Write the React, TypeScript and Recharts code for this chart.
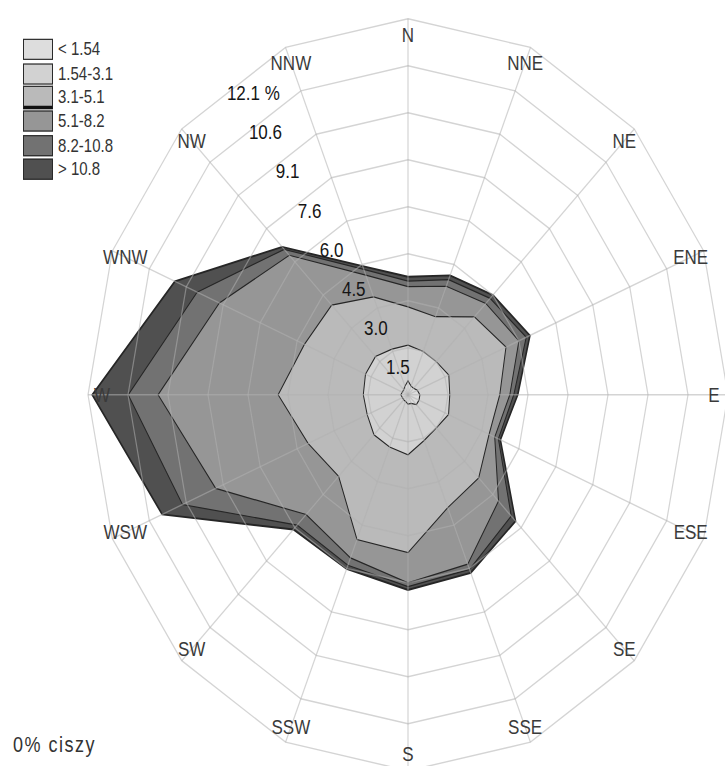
import React from 'react';
import { RadarChart, Radar, PolarGrid, PolarAngleAxis, PolarRadiusAxis } from 'recharts';

// ---------- data ----------
const DIRECTIONS = ['N', 'NNE', 'NE', 'ENE', 'E', 'ESE', 'SE', 'SSE', 'S', 'SSW', 'SW', 'WSW', 'W', 'WNW', 'NW', 'NNW'];

const SPEED_CLASSES = ['< 1.54', '1.54-3.1', '3.1-5.1', '5.1-8.2', '8.2-10.8', '> 10.8'];

// frequency (%) per direction for each wind-speed class
const CLASS_LT_154 = [0.45, 0.30, 0.30, 0.38, 0.45, 0.45, 0.45, 0.30, 0.30, 0.23, 0.23, 0.23, 0.27, 0.23, 0.23, 0.30];
const CLASS_154_31 = [1.15, 1.21, 1.21, 1.29, 1.13, 1.21, 1.06, 1.29, 1.63, 1.59, 1.59, 1.44, 1.42, 1.51, 1.51, 1.29];
const CLASS_31_51 = [1.23, 1.21, 2.04, 2.34, 1.89, 1.66, 2.27, 2.34, 3.15, 3.22, 1.89, 2.42, 3.22, 2.50, 2.34, 1.82];
const CLASS_51_82 = [0.65, 1.06, 0.61, 0.53, 0.38, 0.23, 1.06, 1.97, 0.97, 0.64, 1.74, 3.78, 4.54, 3.48, 2.27, 0.76];
const CLASS_82_108 = [0.18, 0.23, 0.23, 0.30, 0.15, 0.15, 0.68, 0.18, 0.12, 0.26, 0.48, 1.36, 1.13, 0.91, 0.27, 0.20];
const CLASS_GT_108 = [0.14, 0.15, 0.15, 0.15, 0.15, 0.08, 0.23, 0.12, 0.11, 0.12, 0.20, 0.83, 1.36, 0.91, 0.11, 0.11];

const RING_TICKS = [1.5125, 3.025, 4.5375, 6.05, 7.5625, 9.075, 10.5875, 12.1];
const RING_LABELS = ['1.5', '3.0', '4.5', '6.0', '7.6', '9.1', '10.6', '12.1 %'];

const CALM_TEXT = '0% ciszy';

// ---------- styles ----------
const COLORS = ['#dddddd', '#d2d2d2', '#bababa', '#969696', '#727272', '#505050'];
const FONT = '"Liberation Sans", Arial, sans-serif';

const W = 725;
const H = 652;
const SY = 1.175;
const CX = 408;
const CY = 336;
const R = 320;

const CLASSES = [CLASS_LT_154, CLASS_154_31, CLASS_31_51, CLASS_51_82, CLASS_82_108, CLASS_GT_108];

// cumulative (stacked) table for the rose
const data = DIRECTIONS.map((dir, i) => {
  const row: Record<string, number | string> = { dir };
  let sum = 0;
  CLASSES.forEach((arr, k) => {
    sum += arr[i];
    row['s' + k] = Math.round(sum * 1000) / 1000;
  });
  return row;
});

const AngleTick = (props: any) => {
  const { x, y, payload } = props;
  return (
    <text
      x={x}
      y={y}
      textAnchor="middle"
      dominantBaseline="central"
      fontSize={17}
      fontFamily={FONT}
      fill="#3a3a3a"
    >
      {payload.value}
    </text>
  );
};

const RadiusTick = (props: any) => {
  const { x, y, payload } = props;
  const idx = RING_TICKS.findIndex((t) => Math.abs(t - payload.value) < 1e-6);
  if (idx < 0) return null;
  const label = RING_LABELS[idx];
  const shift = label.includes('%') ? 10 : 0;
  return (
    <text
      x={x + 12 + shift}
      y={y + 10}
      textAnchor="middle"
      dominantBaseline="central"
      fontSize={17}
      fontFamily={FONT}
      fill="#151515"
    >
      {label}
    </text>
  );
};

const LegendBox = () => (
  <div style={{ position: 'absolute', left: 23, top: 32, fontFamily: FONT }}>
    {SPEED_CLASSES.map((label, i) => (
      <div key={label} style={{ display: 'flex', alignItems: 'center', height: 20.4 }}>
        <div
          style={{
            width: 28,
            height: 16,
            background: COLORS[i],
            border: '1px solid #2a2a2a',
            borderBottom: i === 2 ? '3px solid #111' : '1px solid #2a2a2a',
          }}
        />
        <span style={{ marginLeft: 5, fontSize: 15, color: '#333', lineHeight: '18px' }}>{label}</span>
      </div>
    ))}
  </div>
);

export default function App() {
  const layers = [5, 4, 3, 2, 1, 0];
  const gridProps: any = { zIndex: 500 };
  return (
    <div
      style={{
        position: 'absolute',
        left: 0,
        top: 0,
        width: W,
        height: H,
        transform: `scaleY(${SY})`,
        transformOrigin: '0 0',
        background: '#fff',
        fontFamily: FONT,
      }}
    >
      <RadarChart
        width={W}
        height={H}
        data={data}
        cx={CX}
        cy={CY}
        outerRadius={R}
        margin={{ top: 0, right: 0, bottom: 0, left: 0 }}
      >
        {layers.map((k) => (
          <Radar
            key={k}
            dataKey={'s' + k}
            fill={COLORS[k]}
            fillOpacity={1}
            stroke="#262626"
            strokeWidth={k === 5 ? 1.6 : 1}
            dot={false}
            isAnimationActive={false}
          />
        ))}
        <PolarGrid gridType="polygon" stroke="#b0b0b0" strokeOpacity={0.55} strokeWidth={1.2} {...gridProps} />
        <PolarAngleAxis
          dataKey="dir"
          tick={AngleTick}
          tickLine={false}
          axisLine={false}
          orientation="inner"
          tickSize={14}
        />
        <PolarRadiusAxis
          angle={123.5}
          type="number"
          domain={[0, 12.1]}
          ticks={RING_TICKS}
          tick={RadiusTick}
          axisLine={false}
          tickLine={false}
          {...gridProps}
        />
        <PolarRadiusAxis
          radiusAxisId="north"
          angle={90}
          type="number"
          domain={[0, 12.1]}
          tick={false}
          tickLine={false}
          axisLine={{ stroke: '#9c9c9c', strokeWidth: 1.3 }}
          {...gridProps}
        />
        <PolarRadiusAxis
          radiusAxisId="south"
          angle={270}
          type="number"
          domain={[0, 12.1]}
          tick={false}
          tickLine={false}
          axisLine={{ stroke: '#9c9c9c', strokeWidth: 1.3 }}
          {...gridProps}
        />
      </RadarChart>
      <LegendBox />
      <div
        style={{
          position: 'absolute',
          left: 13,
          top: 624,
          fontSize: 18,
          letterSpacing: 1.5,
          color: '#333',
          fontFamily: FONT,
          lineHeight: '21px',
        }}
      >
        {CALM_TEXT}
      </div>
    </div>
  );
}
